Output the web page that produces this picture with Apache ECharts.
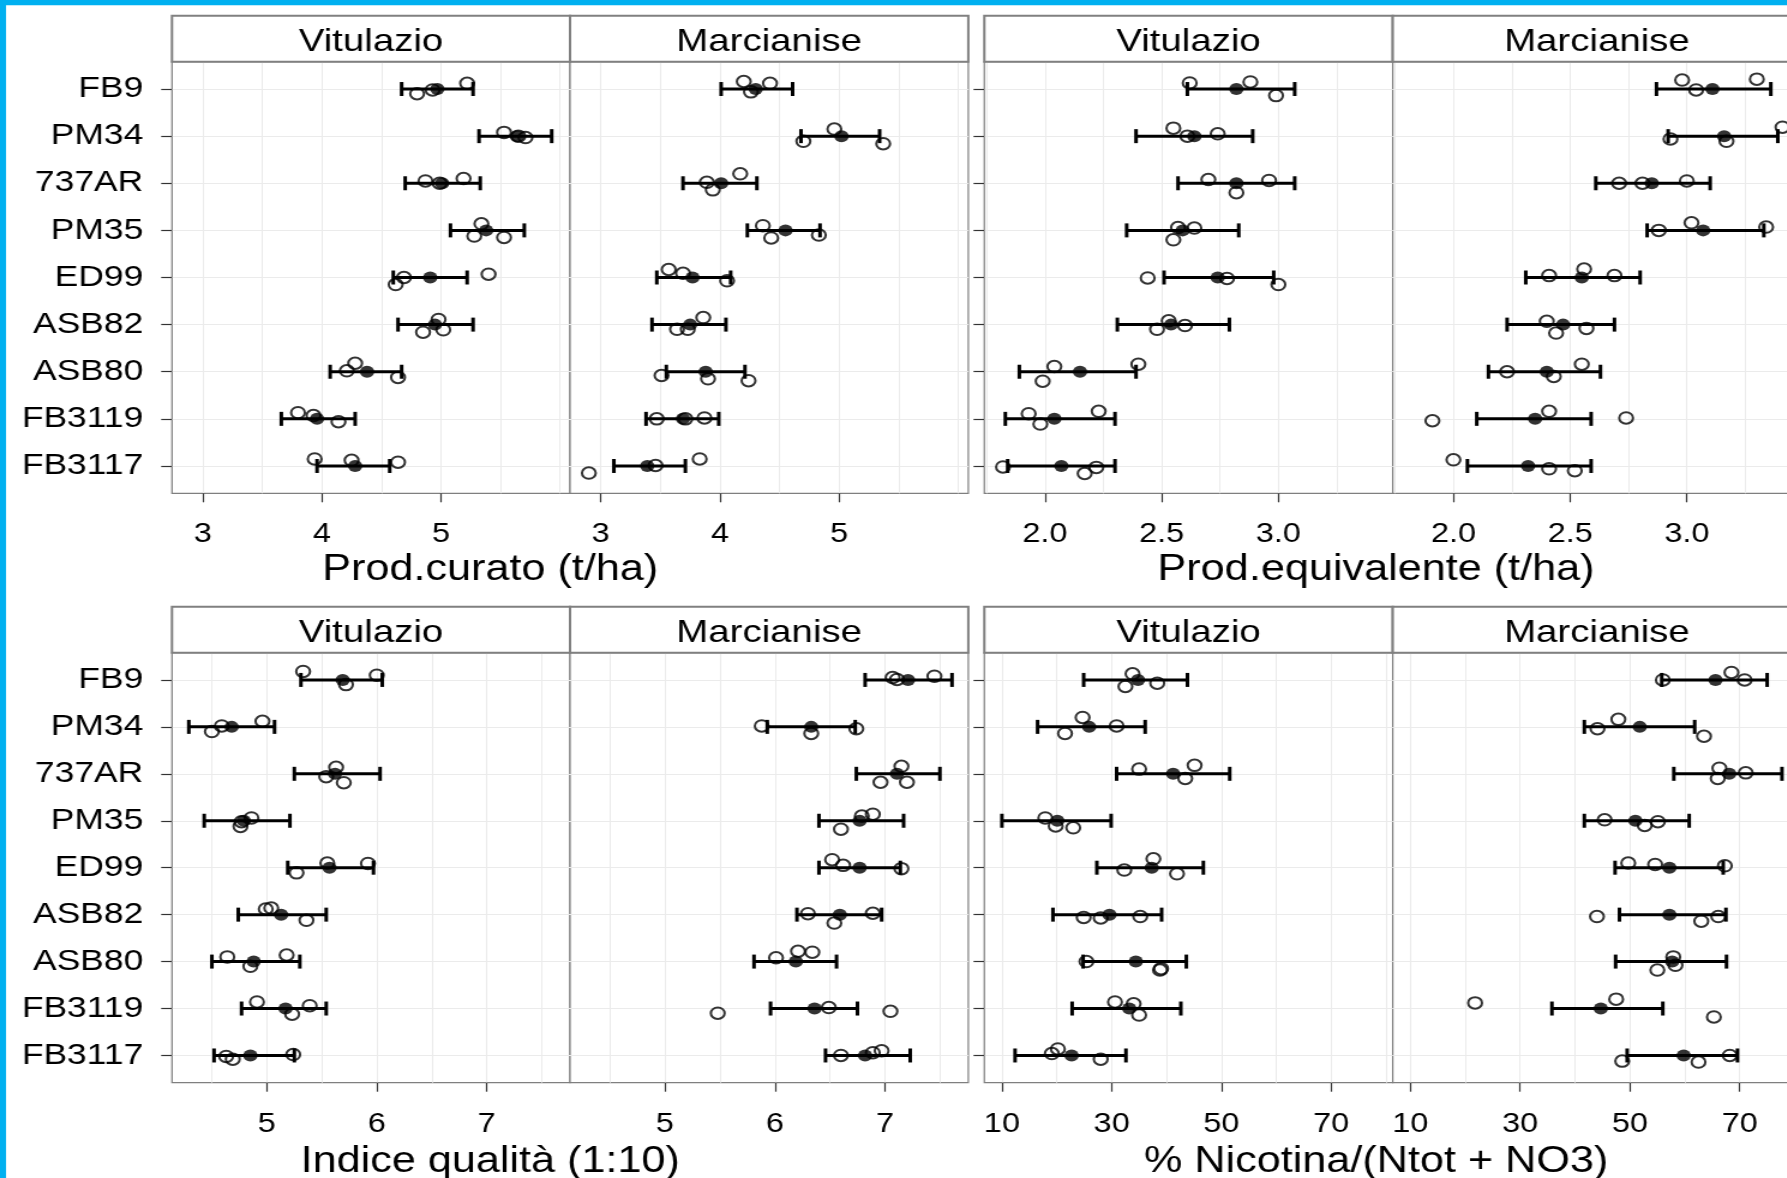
<!DOCTYPE html>
<html>
<head>
<meta charset="utf-8">
<script src="https://cdn.jsdelivr.net/npm/echarts@6.0.0/dist/echarts.min.js"></script>
<style>
html,body{margin:0;padding:0;background:#fff;overflow:hidden;}
#wrap{width:1787px;height:1178px;overflow:hidden;position:relative;background:#fff;}
#chart{width:1520px;height:1178px;transform:scaleX(1.2);transform-origin:0 0;}
</style>
</head>
<body>
<div id="wrap"><div id="chart"></div></div>
<script>
// ---------------- DATA ----------------
const categories = ['FB9','PM34','737AR','PM35','ED99','ASB82','ASB80','FB3119','FB3117'];
const facetNames = ['Vitulazio','Marcianise'];

// Prod.curato (t/ha)
const curatoTicks = [3,4,5];
const curatoGridVals = [3,3.5,4,4.5,5,5.5,6];
const curatoVitRep  = [[5.22,4.80,4.93],[5.53,5.65,5.71],[4.87,5.19,4.99],[5.34,5.28,5.53],[5.40,4.69,4.62],[4.98,4.85,5.02],[4.28,4.21,4.64],[3.80,3.93,4.14],[3.94,4.25,4.64]];
const curatoVitJit  = [[-0.12,0.10,0.02],[-0.08,0.0,0.03],[-0.05,-0.10,0.0],[-0.14,0.12,0.15],[-0.07,0.0,0.15],[-0.11,0.16,0.11],[-0.18,-0.02,0.12],[-0.13,-0.07,0.06],[-0.15,-0.12,-0.08]];
const curatoVitMean = [4.97,5.64,5.01,5.38,4.91,4.95,4.38,3.96,4.28];
const curatoVitLow  = [4.67,5.32,4.70,5.08,4.60,4.64,4.07,3.66,3.96];
const curatoVitHigh = [5.27,5.93,5.33,5.70,5.22,5.27,4.67,4.28,4.57];
const curatoMarRep  = [[4.20,4.42,4.26],[4.96,4.70,5.37],[4.17,3.89,3.94],[4.36,4.43,4.83],[3.57,3.69,4.06],[3.86,3.64,3.73],[3.51,3.90,4.24],[3.47,3.71,3.87],[2.90,3.46,3.83]];
const curatoMarJit  = [[-0.16,-0.12,0.06],[-0.15,0.11,0.16],[-0.20,-0.02,0.14],[-0.10,0.16,0.10],[-0.17,-0.09,0.07],[-0.15,0.10,0.10],[0.08,0.15,0.19],[0.0,0.0,-0.02],[0.15,-0.01,-0.15]];
const curatoMarMean = [4.30,5.02,4.01,4.55,3.77,3.75,3.88,3.69,3.39];
const curatoMarLow  = [4.01,4.68,3.69,4.23,3.47,3.43,3.55,3.38,3.11];
const curatoMarHigh = [4.61,5.34,4.31,4.84,4.09,4.05,4.21,3.99,3.71];

// Prod.equivalente (t/ha)
const equivTicks = [2.0,2.5,3.0];
const equivGridVals = [1.75,2.0,2.25,2.5,2.75,3.0,3.25];
const equivVitRep  = [[2.62,2.88,2.99],[2.55,2.61,2.74],[2.70,2.96,2.82],[2.57,2.64,2.55],[2.44,2.78,3.00],[2.53,2.60,2.48],[2.04,2.40,1.99],[1.93,2.23,1.98],[1.82,2.22,2.17]];
const equivVitJit  = [[-0.13,-0.15,0.14],[-0.17,0.0,-0.05],[-0.08,-0.06,0.20],[-0.06,-0.05,0.20],[0.01,0.02,0.15],[-0.08,0.02,0.10],[-0.11,-0.16,0.20],[-0.11,-0.16,0.11],[0.02,0.03,0.16]];
const equivVitMean = [2.82,2.64,2.82,2.59,2.74,2.54,2.15,2.04,2.07];
const equivVitLow  = [2.61,2.39,2.57,2.35,2.51,2.31,1.89,1.83,1.84];
const equivVitHigh = [3.07,2.89,3.07,2.83,2.98,2.79,2.39,2.30,2.30];
const equivMarRep  = [[2.98,3.04,3.30],[2.93,3.17,3.41],[2.71,2.81,3.00],[2.88,3.02,3.34],[2.41,2.56,2.69],[2.40,2.44,2.57],[2.23,2.43,2.55],[1.91,2.41,2.74],[2.00,2.41,2.52]];
const equivMarJit  = [[-0.19,0.02,-0.21],[0.06,0.11,-0.19],[0.0,0.0,-0.05],[0.0,-0.16,-0.07],[-0.04,-0.18,-0.04],[-0.07,0.18,0.08],[0.0,0.10,-0.16],[0.04,-0.16,-0.02],[-0.13,0.06,0.10]];
const equivMarMean = [3.11,3.16,2.85,3.07,2.55,2.47,2.40,2.35,2.32];
const equivMarLow  = [2.87,2.92,2.61,2.83,2.31,2.23,2.15,2.10,2.06];
const equivMarHigh = [3.36,3.39,3.10,3.33,2.80,2.69,2.63,2.59,2.59];

// Indice qualità (1:10)
const indiceTicks = [5,6,7];
const indiceGridVals = [4.5,5,5.5,6,6.5,7,7.5];
const indiceVitRep  = [[5.33,6.00,5.72],[4.96,4.59,4.50],[5.63,5.54,5.70],[4.86,4.77,4.76],[5.55,5.92,5.27],[4.99,5.04,5.36],[4.64,5.18,4.85],[4.91,5.39,5.23],[4.63,4.69,5.24]];
const indiceVitJit  = [[-0.18,-0.10,0.10],[-0.12,-0.02,0.10],[-0.14,0.06,0.19],[-0.06,0.02,0.12],[-0.10,-0.09,0.11],[-0.12,-0.14,0.12],[-0.10,-0.14,0.10],[-0.14,-0.06,0.12],[0.02,0.08,-0.02]];
const indiceVitMean = [5.69,4.68,5.62,4.79,5.57,5.13,4.88,5.17,4.85];
const indiceVitLow  = [5.31,4.29,5.25,4.43,5.19,4.74,4.50,4.77,4.52];
const indiceVitHigh = [6.05,5.07,6.03,5.21,5.97,5.54,5.30,5.54,5.25];
const indiceMarRep  = [[7.07,7.11,7.45],[5.88,6.33,6.74],[7.15,6.96,7.20],[6.79,6.89,6.60],[6.52,6.62,7.15],[6.30,6.89,6.54],[6.01,6.21,6.34],[5.48,6.49,7.05],[6.60,6.89,6.97]];
const indiceMarJit  = [[-0.05,-0.01,-0.08],[-0.02,0.14,0.04],[-0.16,0.18,0.18],[-0.10,-0.14,0.18],[-0.17,-0.05,0.02],[-0.02,-0.03,0.18],[-0.08,-0.22,-0.20],[0.10,-0.02,0.06],[0.0,-0.06,-0.10]];
const indiceMarMean = [7.21,6.33,7.11,6.77,6.77,6.59,6.19,6.36,6.82];
const indiceMarLow  = [6.82,5.93,6.74,6.40,6.40,6.20,5.81,5.96,6.46];
const indiceMarHigh = [7.61,6.73,7.50,7.17,7.14,6.97,6.56,6.75,7.23];

// % Nicotina/(Ntot + NO3)
const nicoTicks = [10,30,50,70];
const nicoGridVals = [10,20,30,40,50,60,70,80];
const nicoVitRep  = [[33.8,38.3,32.5],[24.7,30.9,21.5],[35.0,45.1,43.4],[17.9,19.8,23.0],[37.6,32.3,41.9],[24.9,28.0,35.2],[25.4,38.8,39.0],[30.6,34.0,35.0],[20.2,19.1,28.0]];
const nicoVitJit  = [[-0.13,0.07,0.14],[-0.20,-0.02,0.14],[-0.10,-0.18,0.10],[-0.06,0.11,0.15],[-0.19,0.05,0.13],[0.06,0.07,0.04],[0.0,0.18,0.15],[-0.14,-0.10,0.14],[-0.14,-0.04,0.08]];
const nicoVitMean = [34.8,25.9,41.2,20.1,37.3,29.6,34.4,33.2,22.7];
const nicoVitLow  = [24.9,16.5,30.9,10.0,27.3,19.3,24.8,22.8,12.4];
const nicoVitHigh = [43.8,36.1,51.5,29.9,46.7,39.1,43.6,42.6,32.6];
const nicoMarRep  = [[68.5,70.9,56.0],[47.9,44.1,63.5],[66.3,71.1,66.0],[45.4,52.7,55.1],[49.7,54.6,67.3],[44.0,63.0,66.1],[57.9,58.3,55.0],[21.8,47.5,65.3],[48.6,62.5,68.2]];
const nicoMarJit  = [[-0.16,0.0,0.0],[-0.16,0.04,0.20],[-0.12,-0.02,0.10],[-0.02,0.10,0.02],[-0.10,-0.07,-0.04],[0.04,0.14,0.04],[-0.10,0.08,0.18],[-0.12,-0.20,0.18],[0.12,0.14,0.0]];
const nicoMarMean = [65.6,51.8,68.1,51.0,57.2,57.2,57.7,44.7,59.8];
const nicoMarLow  = [55.8,41.7,58.0,41.7,47.3,48.1,47.4,35.8,49.5];
const nicoMarHigh = [75.0,61.8,77.7,60.8,67.0,67.5,67.6,56.0,69.6];

// ---------------- LAYOUT / STYLE ----------------
const FONT = "'Liberation Sans', Arial, Helvetica, sans-serif";
const colLeft  = [143.3, 475.0, 820.25, 1160.6];
const colWidth = [331.7, 331.9, 340.35, 340.35];
const rowTop   = [61.7, 652.7];
const rowH     = [431.6, 430.0];
const stripTop = [15.7, 606.7];
const stripH   = 46;
const titleY   = [570, 1162];
const titleX   = [408.5, 1146.7];

const panels = [
  {title:'Prod.curato (t/ha)', min:2.742, max:6.084, ticks:curatoTicks, gridVals:curatoGridVals, fmt:v=>String(v),
   facets:[[curatoVitRep,curatoVitJit,curatoVitMean,curatoVitLow,curatoVitHigh],[curatoMarRep,curatoMarJit,curatoMarMean,curatoMarLow,curatoMarHigh]]},
  {title:'Prod.equivalente (t/ha)', min:1.740, max:3.490, ticks:equivTicks, gridVals:equivGridVals, fmt:v=>Number(v).toFixed(1),
   facets:[[equivVitRep,equivVitJit,equivVitMean,equivVitLow,equivVitHigh],[equivMarRep,equivMarJit,equivMarMean,equivMarLow,equivMarHigh]]},
  {title:'Indice qualità (1:10)', min:4.137, max:7.758, ticks:indiceTicks, gridVals:indiceGridVals, fmt:v=>String(v),
   facets:[[indiceVitRep,indiceVitJit,indiceVitMean,indiceVitLow,indiceVitHigh],[indiceMarRep,indiceMarJit,indiceMarMean,indiceMarLow,indiceMarHigh]]},
  {title:'% Nicotina/(Ntot + NO3)', min:6.8, max:81.2, ticks:nicoTicks, gridVals:nicoGridVals, fmt:v=>String(v),
   facets:[[nicoVitRep,nicoVitJit,nicoVitMean,nicoVitLow,nicoVitHigh],[nicoMarRep,nicoMarJit,nicoMarMean,nicoMarLow,nicoMarHigh]]}
];

const catPos = categories.map((c,i)=>i+1);

function renderErrorBar(params, api){
  const y = api.value(2);
  const lo = api.coord([api.value(0), y]);
  const hi = api.coord([api.value(1), y]);
  const h = 7;
  const st = {stroke:'#000', lineWidth:3, lineCap:'butt'};
  return {type:'group', children:[
    {type:'line', shape:{x1:lo[0], y1:lo[1], x2:hi[0], y2:hi[1]}, style:st},
    {type:'line', shape:{x1:lo[0], y1:lo[1]-h, x2:lo[0], y2:lo[1]+h}, style:st},
    {type:'line', shape:{x1:hi[0], y1:hi[1]-h, x2:hi[0], y2:hi[1]+h}, style:st}
  ]};
}

const grids=[], xAxes=[], yAxes=[], series=[], graphics=[];

panels.forEach((p, pi) => {
  const row = pi < 2 ? 0 : 1;
  const pair = pi % 2;
  p.facets.forEach((f, fi) => {
    const [rep, jit, mean, low, high] = f;
    const gi = grids.length;
    const col = pair*2 + fi;
    grids.push({left:colLeft[col], width:colWidth[col], top:rowTop[row], height:rowH[row],
      show:true, backgroundColor:'#fff', borderColor:'#7f7f7f', borderWidth:1.2, containLabel:false});
    xAxes.push({gridIndex:gi, type:'value', min:p.min, max:p.max, position:'bottom',
      axisLine:{show:false},
      axisTick:{show:true, length:9, customValues:p.ticks, lineStyle:{color:'#333', width:1.2}},
      axisLabel:{show:true, customValues:p.ticks, formatter:p.fmt, fontSize:27, color:'#000', margin:28, fontFamily:FONT},
      splitLine:{show:false}});
    xAxes.push({gridIndex:gi, type:'value', min:p.min, max:p.max, position:'top',
      axisLine:{show:false},
      axisTick:{show:false, customValues:p.gridVals},
      axisLabel:{show:false},
      splitLine:{show:true, lineStyle:{color:'#ebebeb', width:1}}});
    yAxes.push({gridIndex:gi, type:'value', inverse:true, min:0.42, max:9.58,
      axisLine:{show:false},
      axisTick:{show: fi===0, length:9, customValues:catPos, lineStyle:{color:'#333', width:1.2}},
      axisLabel:{show: fi===0 && pair===0, customValues:catPos, formatter:v=>categories[Math.round(v)-1],
        fontSize:29.5, color:'#000', margin:24, fontFamily:FONT},
      splitLine:{show:true, lineStyle:{color:'#ebebeb', width:1}}});

    const pts = [];
    rep.forEach((r, i) => r.forEach((v, j) => pts.push([v, i+1+jit[i][j]])));
    series.push({type:'scatter', xAxisIndex:2*gi, yAxisIndex:gi, data:pts, symbol:'circle', symbolSize:11.5,
      itemStyle:{color:'rgba(255,255,255,0)', borderColor:'#000', borderWidth:2}, z:3, silent:true});
    series.push({type:'custom', xAxisIndex:2*gi, yAxisIndex:gi, renderItem:renderErrorBar,
      encode:{x:[0,1], y:2}, data:low.map((l,i)=>[l, high[i], i+1]), z:4, silent:true});
    series.push({type:'scatter', xAxisIndex:2*gi, yAxisIndex:gi, data:mean.map((m,i)=>[m, i+1]),
      symbol:'circle', symbolSize:12, itemStyle:{color:'#000'}, z:5, silent:true});

    // facet strip
    graphics.push({type:'rect', z:50, shape:{x:colLeft[col], y:stripTop[row], width:colWidth[col], height:stripH},
      style:{fill:'#fff', stroke:'#808080', lineWidth:2}});
    graphics.push({type:'text', z:51, x:colLeft[col]+colWidth[col]/2, y:stripTop[row]+stripH/2+3,
      style:{text:facetNames[fi], fontSize:32, fontFamily:FONT, fill:'#000', align:'center', verticalAlign:'middle'}});
  });
  graphics.push({type:'text', z:51, x:titleX[pair], y:titleY[row],
    style:{text:p.title, fontSize:36, fontFamily:FONT, fill:'#000', align:'center', verticalAlign:'middle'}});
});

// blue frame edges
graphics.push({type:'rect', z:60, shape:{x:0, y:0, width:1520, height:5.3}, style:{fill:'#00B0F0'}});
graphics.push({type:'rect', z:60, shape:{x:0, y:0, width:5, height:1178}, style:{fill:'#00B0F0'}});

const chart = echarts.init(document.getElementById('chart'), null, {renderer:'canvas'});
chart.setOption({
  animation:false,
  backgroundColor:'#fff',
  grid:grids, xAxis:xAxes, yAxis:yAxes, series:series,
  graphic:{elements:graphics}
});
</script>
</body>
</html>
